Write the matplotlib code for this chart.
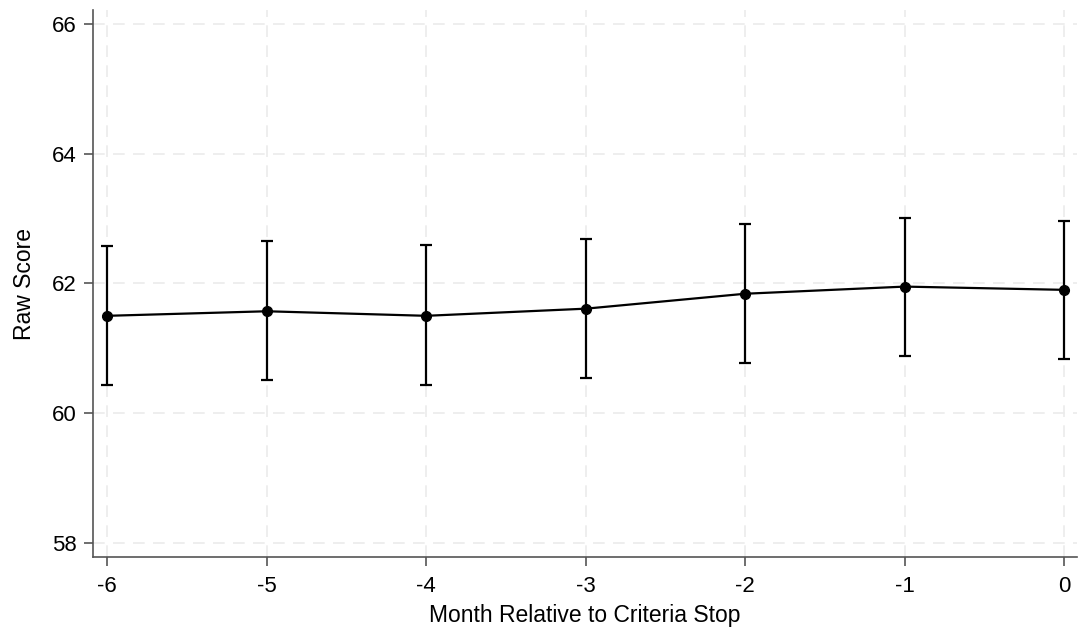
import matplotlib
matplotlib.use("Agg")
import matplotlib.pyplot as plt
import numpy as np

plt.rcParams["font.family"] = ["Liberation Sans", "DejaVu Sans"]

# month relative to criteria stop, mean raw score, and CI bounds
months = [-6, -5, -4, -3, -2, -1, 0]
score = [61.50, 61.57, 61.50, 61.61, 61.84, 61.95, 61.90]
upper = [62.58, 62.65, 62.585, 62.68, 62.92, 63.01, 62.96]
lower = [60.43, 60.51, 60.44, 60.54, 60.78, 60.88, 60.83]

score = np.array(score)
yerr = [score - np.array(lower), np.array(upper) - score]

fig = plt.figure(figsize=(10.8, 6.29), dpi=100)
ax = fig.add_axes([0.0861, 0.114, 0.911, 0.870])

ax.errorbar(months, score, yerr=yerr, color="black", lw=1.6, elinewidth=1.6,
            capsize=4.5, capthick=1.6, marker="o", markersize=7, zorder=3)

ax.set_xlim(-6.09, 0.08)
ax.set_ylim(57.78, 66.21)
ax.set_xticks(months)
ax.set_xticklabels([str(m) for m in months])
ax.set_yticks([58, 60, 62, 64, 66])

ax.grid(True, color="#ebebeb", lw=1.2, linestyle=(0, (7, 5)))
ax.set_axisbelow(True)

for s in ["top", "right"]:
    ax.spines[s].set_visible(False)
for s in ["left", "bottom"]:
    ax.spines[s].set_color("#555555")
    ax.spines[s].set_linewidth(1.2)

ax.tick_params(axis="both", length=6.5, width=1.2, color="#555555",
               labelsize=16, pad=5)
ax.tick_params(axis="x", pad=7)

ax.set_xlabel("Month Relative to Criteria Stop", fontsize=16.5, labelpad=5)
ax.set_ylabel("Raw Score", fontsize=16.5, labelpad=12)

fig.savefig("out.png", dpi=100)
